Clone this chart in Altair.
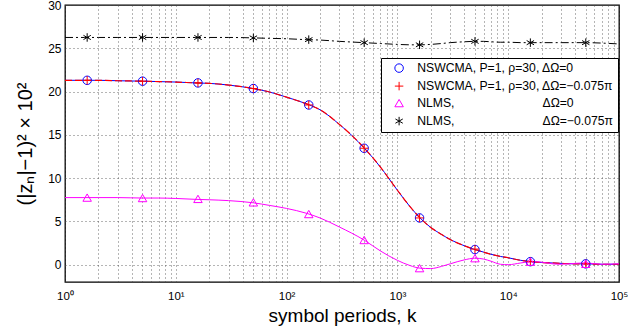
import altair as alt
import pandas as pd

# ---- data ----
k_curve = [1, 1.5, 2, 3, 5, 7, 10, 15, 20, 30, 50, 70, 100, 150, 200, 300, 500, 700,
           1000, 1300, 1600, 2000, 2500, 3000, 4000, 5000, 6000, 7000, 8500, 10000,
           13000, 16000, 20000, 25000, 30000, 40000, 50000, 70000, 100000]

nsw_0 = [21.3, 21.3, 21.3, 21.25, 21.2, 21.15, 21.1, 21.0, 20.95, 20.75, 20.35, 19.95,
         19.35, 18.6, 17.9, 16.2, 13.5, 11.3, 8.6, 6.7, 5.4, 4.3, 3.5, 2.9, 2.2, 1.75,
         1.45, 1.2, 0.95, 0.8, 0.5, 0.35, 0.25, 0.2, 0.15, 0.1, 0.1, 0.05, 0.05]
nsw_d = [21.3, 21.3, 21.3, 21.25, 21.2, 21.15, 21.1, 21.0, 20.95, 20.75, 20.35, 19.95,
         19.35, 18.6, 17.9, 16.2, 13.5, 11.3, 8.6, 6.7, 5.4, 4.3, 3.5, 2.9, 2.2, 1.75,
         1.45, 1.2, 0.95, 0.8, 0.5, 0.35, 0.25, 0.2, 0.15, 0.1, 0.1, 0.05, 0.05]
nlms_0 = [7.75, 7.75, 7.75, 7.75, 7.7, 7.7, 7.65, 7.55, 7.5, 7.4, 7.15, 6.85, 6.5, 5.95,
          5.4, 4.35, 2.85, 1.6, 0.5, -0.1, -0.4, -0.45, -0.2, 0.1, 0.55, 0.75, 0.65,
          0.4, 0.05, 0.0, 0.2, 0.35, 0.3, 0.1, 0.05, 0.15, 0.2, 0.05, 0.1]
nlms_d = [26.25, 26.25, 26.25, 26.25, 26.25, 26.25, 26.25, 26.25, 26.25, 26.25, 26.2,
          26.15, 26.1, 26.0, 25.95, 25.8, 25.65, 25.55, 25.45, 25.4, 25.4, 25.45, 25.55,
          25.65, 25.75, 25.8, 25.8, 25.75, 25.7, 25.7, 25.65, 25.65, 25.65, 25.65, 25.65,
          25.65, 25.65, 25.6, 25.5]

k_mark = [1.585, 5.012, 15.85, 50.12, 158.5, 501.2, 1585, 5012, 15850, 50120]
m_nsw_0 = [21.3, 21.2, 21.0, 20.35, 18.45, 13.45, 5.4, 1.75, 0.35, 0.1]
m_nsw_d = [21.3, 21.2, 21.0, 20.35, 18.45, 13.45, 5.4, 1.8, 0.35, 0.1]
m_nlms_0 = [7.75, 7.7, 7.6, 7.2, 5.85, 2.85, -0.4, 0.75, 0.35, 0.1]
m_nlms_d = [26.25, 26.25, 26.25, 26.2, 26.0, 25.65, 25.4, 25.8, 25.65, 25.65]

NB = "\u00a0"
labels = [
    "NSWCMA, P=1, \u03c1=30, \u0394\u03a9=0",
    "NSWCMA, P=1, \u03c1=30, \u0394\u03a9=\u22120.075\u03c0",
    "NLMS," + NB * 26 + "\u0394\u03a9=0",
    "NLMS," + NB * 26 + "\u0394\u03a9=\u22120.075\u03c0",
]
colors = ["#0000ff", "#ff0000", "#ff00ff", "#000000"]
shapes = ["circle", "M-1,0L1,0M0,-1L0,1", "triangle-up",
          "M0,-1L0,1M-0.87,-0.5L0.87,0.5M-0.87,0.5L0.87,-0.5"]

x_grid = [m * 10 ** e for e in range(0, 5) for m in range(1, 10)] + [100000]

# ---- tables ----
curves = pd.concat([
    pd.DataFrame({"k": k_curve, "v": vals, "series": lab})
    for vals, lab in zip([nsw_0, nsw_d, nlms_0, nlms_d], labels)
])
marks = pd.concat([
    pd.DataFrame({"k": k_mark, "v": vals, "series": lab})
    for vals, lab in zip([m_nsw_0, m_nsw_d, m_nlms_0, m_nlms_d], labels)
])

lab_expr = ("datum.value == 1 ? '10\u2070' : datum.value == 10 ? '10\u00b9' : "
            "datum.value == 100 ? '10\u00b2' : datum.value == 1000 ? '10\u00b3' : "
            "datum.value == 10000 ? '10\u2074' : datum.value == 100000 ? '10\u2075' : ''")

x_enc = alt.X("k:Q", scale=alt.Scale(type="log", domain=[1, 100000], nice=False),
              axis=alt.Axis(values=x_grid, labelExpr=lab_expr, title="symbol periods, k",
                            grid=True, ticks=False, domain=False, labelOverlap=False,
                            labelFontSize=11.5, labelPadding=8, titleFontSize=19,
                            titlePadding=5, labelFlush=False))
y_enc = alt.Y("v:Q", scale=alt.Scale(domain=[-2, 30], nice=False, zero=False),
              axis=alt.Axis(values=[0, 5, 10, 15, 20, 25, 30],
                            title="(|z\u2099|\u22121)\u00b2 \u00d7 10\u00b2",
                            grid=True, ticks=False, domain=False, labelFontSize=12,
                            labelPadding=4, titleFontSize=20, titlePadding=12))

base_c = alt.Chart(curves)

def line(lab, color, dash, width=1):
    kw = dict(color=color, strokeWidth=width, interpolate="monotone", clip=True)
    if dash:
        kw["strokeDash"] = dash
    return base_c.transform_filter(alt.datum.series == lab).mark_line(**kw).encode(
        x=x_enc, y=y_enc)

l_blue = line(labels[0], colors[0], None)
l_red = line(labels[1], colors[1], [7, 3], 1.2)
l_mag = line(labels[2], colors[2], None)
l_blk = line(labels[3], colors[3], [8, 3, 2, 3])

pts = alt.Chart(marks).mark_point(filled=False, size=72, strokeWidth=1, opacity=1).encode(
    x=alt.X("k:Q"),
    y=alt.Y("v:Q"),
    color=alt.Color("series:N", scale=alt.Scale(domain=labels, range=colors),
                    legend=alt.Legend(title=None, orient="none", legendX=316, legendY=53,
                                      strokeColor="black", fillColor="white", padding=4,
                                      labelFontSize=12.2, labelOffset=12, symbolOffset=8,
                                      rowPadding=4, symbolStrokeWidth=1, symbolSize=72,
                                      labelLimit=400)),
    shape=alt.Shape("series:N", scale=alt.Scale(domain=labels, range=shapes), legend=None),
)

chart = alt.layer(l_blue, l_red, l_mag, l_blk, pts).properties(
    width=554, height=277,
    autosize=alt.AutoSizeParams(type="none"),
    padding={"left": 65, "top": 5, "right": 9, "bottom": 51},
).configure(
    font="Liberation Sans",
).configure_view(
    stroke="black", strokeWidth=1.3,
).configure_axis(
    gridColor="#444", gridDash=[1, 3], gridWidth=0.8, labelColor="black",
    titleColor="black", titleFontWeight="normal", labelFont="Liberation Sans",
    titleFont="Liberation Sans",
).configure_legend(labelColor="black", labelFont="Liberation Sans")

chart.save("out.html", embed_options={"renderer": "svg", "actions": False})
